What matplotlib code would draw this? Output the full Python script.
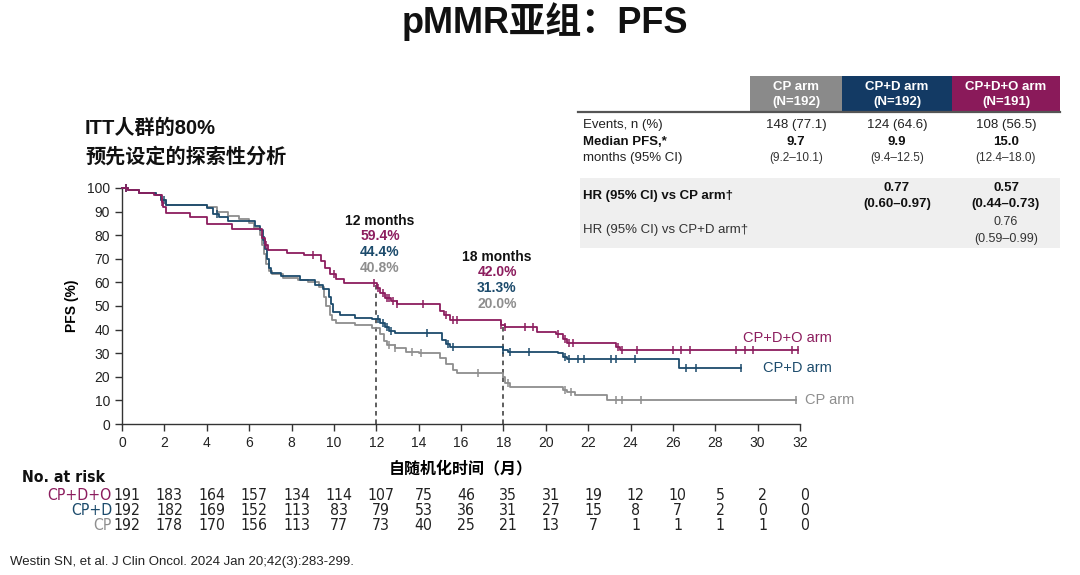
import matplotlib
matplotlib.use("Agg")
import matplotlib.pyplot as plt
from matplotlib.patches import Rectangle
from matplotlib import font_manager

plt.rcParams['font.family'] = ['Liberation Sans', 'Noto Sans CJK SC', 'DejaVu Sans']

_cond = [f for f in font_manager.fontManager.ttflist
         if f.name == 'DejaVu Sans' and str(f.stretch) in ('condensed', '300')]
if _cond:
    NARROW = dict(family='DejaVu Sans', stretch='condensed')
    NSIZE = 11.3
else:
    NARROW = dict(family='Liberation Sans')
    NSIZE = 10.5

# ---------------- data ----------------
months_ticks = list(range(0, 33, 2))

cpdo_t = [0, 0.3, 0.8, 1.5, 1.87, 1.95, 2.1, 3.2, 4.0, 5.2, 6.6, 6.75, 6.9, 7.8, 8.6,
          9.4, 9.6, 9.8, 10.1, 10.5, 12.05, 12.2, 12.4, 12.7, 13.0, 15.0, 15.2, 15.5,
          17.9, 18.1, 19.6, 20.5, 20.8, 21.0, 23.3, 23.5, 31.9]
cpdo_s = [100, 99, 98, 97, 94, 92, 89.5, 87.5, 84.8, 82.8, 79, 76, 73.6, 72.4, 71.8,
          69, 66, 63.5, 61.5, 59.6, 57.5, 55.5, 53.5, 52, 51, 48, 46, 44,
          42.0, 41, 39.1, 38.2, 36, 34.2, 32.5, 31.4, 31.4]

cpd_t = [0, 0.3, 0.8, 1.6, 1.85, 2.1, 4.0, 4.3, 4.6, 5.0, 6.3, 6.5, 6.65, 6.75, 6.85,
         6.95, 7.05, 7.5, 8.4, 9.1, 9.5, 9.75, 9.85, 9.95, 10.3, 11.0, 11.8, 12.2, 12.4,
         12.6, 12.9, 15.1, 15.3, 15.5, 18.0, 18.2, 20.6, 20.8, 21.0, 26.3, 29.2]
cpd_s = [100, 99, 98, 97, 95, 93, 91.5, 89, 87.5, 86, 84, 82, 78, 74, 70,
         66, 64, 62.5, 61, 59, 57, 54, 51, 47.5, 46, 45, 44.4, 43, 41,
         39.5, 38.5, 35.5, 34, 32.8, 31.3, 30.7, 30.0, 28.5, 27.4, 23.6, 23.6]

cp_t = [0, 0.3, 0.8, 1.6, 1.85, 2.1, 4.0, 4.5, 5.0, 5.5, 6.0, 6.25, 6.5, 6.6, 6.7, 6.8,
        6.95, 7.1, 7.6, 8.3, 8.8, 9.3, 9.55, 9.65, 9.8, 9.9, 10.1, 11.0, 11.8, 12.2,
        12.35, 12.5, 12.9, 13.4, 14.0, 15.0, 15.3, 15.6, 15.8, 18.0, 18.1, 18.3, 20.8,
        21.0, 21.4, 22.9, 31.8]
cp_s = [100, 99, 98, 97, 95, 93, 92, 90, 88, 87, 85, 83, 80, 76, 72, 68,
        65, 63.5, 62, 61, 60, 58, 54, 50, 46, 44, 43, 42, 40.8, 38,
        35, 33.5, 32, 30.5, 30, 28, 25.5, 23, 21.5, 20.0, 17.5, 15.5, 14.5,
        13.7, 12.3, 10.3, 10.3]

cpdo_cens = [0.2, 1.9, 6.8, 9.0, 10.0, 11.9, 12.1, 12.3, 12.5, 12.6, 12.8, 13.0, 14.2,
             15.3, 15.6, 15.8, 17.9, 18.1, 19.0, 19.4, 20.6, 20.9, 21.1, 21.3, 23.4,
             23.6, 24.3, 26.0, 26.4, 26.8, 29.0, 29.4, 29.8, 31.6, 31.9]
cpd_cens = [0.2, 2.0, 4.5, 6.7, 12.1, 12.3, 12.5, 12.7, 14.4, 15.4, 15.6, 18.0, 18.3,
            19.2, 20.9, 21.1, 21.5, 21.8, 23.1, 23.3, 24.2, 26.6, 27.1, 29.2]
cp_cens = [0.2, 12.6, 12.9, 13.7, 14.1, 16.8, 18.2, 20.9, 21.2, 23.3, 23.6, 24.5, 31.8]

risk_cpdo = [191, 183, 164, 157, 134, 114, 107, 75, 46, 35, 31, 19, 12, 10, 5, 2, 0]
risk_cpd = [192, 182, 169, 152, 113, 83, 79, 53, 36, 31, 27, 15, 8, 7, 2, 0, 0]
risk_cp = [192, 178, 170, 156, 113, 77, 73, 40, 25, 21, 13, 7, 1, 1, 1, 1, 0]

landmarks = [12, 18]
lm_cpdo = [59.4, 42.0]
lm_cpd = [44.4, 31.3]
lm_cp = [40.8, 20.0]

table_cols = ["CP arm\n(N=192)", "CP+D arm\n(N=192)", "CP+D+O arm\n(N=191)"]
events = ["148 (77.1)", "124 (64.6)", "108 (56.5)"]
median_pfs = ["9.7", "9.9", "15.0"]
median_ci = ["(9.2–10.1)", "(9.4–12.5)", "(12.4–18.0)"]
hr_cp = ["", "0.77", "0.57"]
hr_cp_ci = ["", "(0.60–0.97)", "(0.44–0.73)"]
hr_cpd = ["", "", "0.76"]
hr_cpd_ci = ["", "", "(0.59–0.99)"]

# ---------------- styling ----------------
C_CPDO = "#8c1d5e"
C_CPD = "#1c4b6c"
C_CP = "#8e8e8e"
H_CP = "#8a8a8a"
H_CPD = "#133a64"
H_CPDO = "#8a1a5a"

W, H = 1080, 575
fig = plt.figure(figsize=(W / 100, H / 100), dpi=100)
fig.patch.set_facecolor("white")

ov = fig.add_axes([0, 0, 1, 1], zorder=0)
ov.set_xlim(0, W)
ov.set_ylim(H, 0)
ov.axis("off")

AX_L, AX_R = 122, 800
ax = fig.add_axes([AX_L / W, 1 - 424 / H, (AX_R - AX_L) / W, (424 - 188) / H], zorder=1)
ax.set_facecolor("none")

for t, s, c, cens in [(cp_t, cp_s, C_CP, cp_cens), (cpd_t, cpd_s, C_CPD, cpd_cens),
                      (cpdo_t, cpdo_s, C_CPDO, cpdo_cens)]:
    ax.step(t, s, where="post", color=c, lw=1.3, clip_on=False, zorder=3)
    ys = []
    for ct in cens:
        v = s[0]
        for ti, si in zip(t, s):
            if ti <= ct:
                v = si
        ys.append(v)
    ax.plot(cens, ys, ls="none", marker="|", ms=6, mew=1.1, color=c, clip_on=False, zorder=3)

for lx, v in zip(landmarks, lm_cpdo):
    ax.plot([lx, lx], [0, v], ls=(0, (3, 2.5)), color="#333333", lw=1.1, zorder=2)

ax.set_xlim(0, 32)
ax.set_ylim(0, 100)
ax.set_xticks(months_ticks)
ax.set_yticks(range(0, 101, 10))
ax.spines["top"].set_visible(False)
ax.spines["right"].set_visible(False)
for sp in ["left", "bottom"]:
    ax.spines[sp].set_color("#333333")
    ax.spines[sp].set_linewidth(1.0)
ax.tick_params(axis="both", direction="out", length=5, width=1, colors="#333333",
               labelsize=10, labelcolor="#222222")
ax.set_ylabel("PFS (%)", fontsize=10, fontweight="bold", labelpad=6)
ax.set_xlabel("自随机化时间（月）", fontsize=11.5, fontweight="bold", labelpad=8)

for cx, a, b, c, yp, lx in zip([380, 497], lm_cpdo, lm_cpd, lm_cp, [221, 257], landmarks):
    ov.text(cx, yp, f"{lx} months", ha="center", va="center", fontsize=10,
            fontweight="bold", color="#111111")
    ov.text(cx, yp + 15.5, f"{a:.1f}%", ha="center", va="center", fontsize=10,
            fontweight="bold", color=C_CPDO)
    ov.text(cx, yp + 31, f"{b:.1f}%", ha="center", va="center", fontsize=10,
            fontweight="bold", color=C_CPD)
    ov.text(cx, yp + 46.5, f"{c:.1f}%", ha="center", va="center", fontsize=10,
            fontweight="bold", color=C_CP)

ov.text(832, 338, "CP+D+O arm", ha="right", va="center", fontsize=10.5, color=C_CPDO)
ov.text(832, 368, "CP+D arm", ha="right", va="center", fontsize=10.5, color=C_CPD)
ov.text(805, 400, "CP arm", ha="left", va="center", fontsize=10.5, color=C_CP)

ov.text(545, 22, "pMMR亚组：PFS", ha="center", va="center", fontsize=26,
        fontweight="bold", color="#111111")
ov.text(85, 128, "ITT人群的80%", ha="left", va="center", fontsize=14.5,
        fontweight="bold", color="#111111")
ov.text(85, 157, "预先设定的探索性分析", ha="left", va="center", fontsize=14.5,
        fontweight="bold", color="#111111")

ov.text(22, 478, "No. at risk", ha="left", va="center", fontsize=NSIZE, fontweight="bold",
        color="#111111", **NARROW)
for lab, vals, c, yp in [("CP+D+O", risk_cpdo, C_CPDO, 496), ("CP+D", risk_cpd, C_CPD, 510.5),
                         ("CP", risk_cp, C_CP, 525)]:
    ov.text(112, yp, lab, ha="right", va="center", fontsize=NSIZE, color=c, **NARROW)
    for m, v in zip(months_ticks, vals):
        ov.text(AX_L + 5 + m * (AX_R - AX_L) / 32, yp, str(v), ha="center", va="center",
                fontsize=NSIZE, color="#222222", **NARROW)

ov.text(10, 562, "Westin SN, et al. J Clin Oncol. 2024 Jan 20;42(3):283-299.", ha="left",
        va="center", fontsize=9.5, color="#222222")

col_x = [(750, 842), (842, 952), (952, 1060)]
col_c = [H_CP, H_CPD, H_CPDO]
for (x0, x1), c, lab in zip(col_x, col_c, table_cols):
    ov.add_patch(Rectangle((x0, 76), x1 - x0, 35, color=c, lw=0))
    l1, l2 = lab.split("\n")
    cx = (x0 + x1) / 2
    ov.text(cx, 86.5, l1, ha="center", va="center", fontsize=9.5, fontweight="bold", color="white")
    ov.text(cx, 102, l2, ha="center", va="center", fontsize=9.5, fontweight="bold", color="white")
ov.plot([578, 1060], [112, 112], color="#555555", lw=1.6)
ov.add_patch(Rectangle((580, 178), 480, 70, color="#efefef", lw=0))

ov.text(583, 125, "Events, n (%)", ha="left", va="center", fontsize=9.5, color="#222222")
ov.text(583, 142, "Median PFS,*", ha="left", va="center", fontsize=9.5, fontweight="bold",
        color="#111111")
ov.text(583, 158, "months (95% CI)", ha="left", va="center", fontsize=9.5, color="#222222")
ov.text(583, 196, "HR (95% CI) vs CP arm†", ha="left", va="center", fontsize=9.5,
        fontweight="bold", color="#111111")
ov.text(583, 230, "HR (95% CI) vs CP+D arm†", ha="left", va="center", fontsize=9.5,
        color="#333333")

centers = [796, 897, 1006]
for i, cx in enumerate(centers):
    ov.text(cx, 125, events[i], ha="center", va="center", fontsize=9.5, color="#222222")
    ov.text(cx, 142, median_pfs[i], ha="center", va="center", fontsize=9.5,
            fontweight="bold", color="#111111")
    ov.text(cx, 158, median_ci[i], ha="center", va="center", fontsize=8.5, color="#333333")
    if hr_cp[i]:
        ov.text(cx, 188, hr_cp[i], ha="center", va="center", fontsize=9.5,
                fontweight="bold", color="#111111")
        ov.text(cx, 204, hr_cp_ci[i], ha="center", va="center", fontsize=9.5,
                fontweight="bold", color="#111111")
    if hr_cpd[i]:
        ov.text(cx, 222, hr_cpd[i], ha="center", va="center", fontsize=9, color="#333333")
        ov.text(cx, 239, hr_cpd_ci[i], ha="center", va="center", fontsize=9, color="#333333")

fig.savefig("out.png", dpi=100, facecolor="white")
